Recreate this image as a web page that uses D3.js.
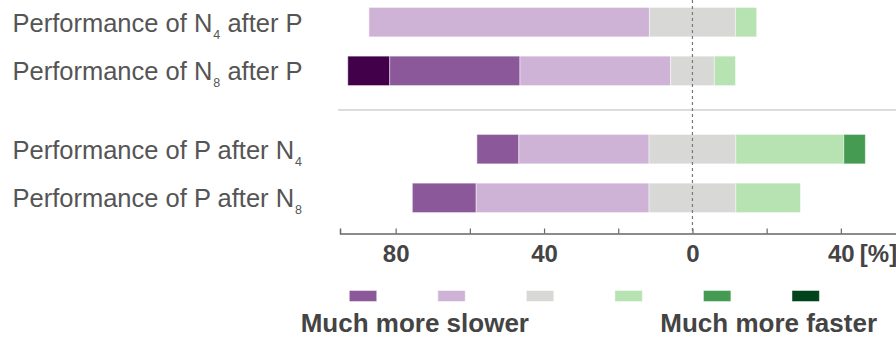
<!DOCTYPE html>
<html>
<head>
<meta charset="utf-8">
<script src="https://cdn.jsdelivr.net/npm/d3@7"></script>
<style>
  body { margin: 0; background: #fff; }
  svg { display: block; }
</style>
</head>
<body>
<svg id="chart" width="896" height="338"></svg>
<script>
// rows, top to bottom; each label = [before subscript, subscript, after]
let groups = ["N after P", "P after N"]
let rows = [
  { group: "N after P", label: ["Performance of N", "4", " after P"] },
  { group: "N after P", label: ["Performance of N", "8", " after P"] },
  { group: "P after N", label: ["Performance of P after N", "4", ""] },
  { group: "P after N", label: ["Performance of P after N", "8", ""] }
]
// levels from much slower to much faster, level 3 is neutral
let levels = ["much much slower", "much slower", "slower", "same", "faster", "much faster", "much much faster"]
let colors = ["#42004a", "#8b5899", "#cfb3d7", "#d8d9d7", "#b7e2b1", "#449b51", "#00441b"]
// values in axis units (%)
let values = [
  [0, 0, 75.6, 23.2, 5.7, 0, 0],
  [11.3, 35.1, 40.6, 11.8, 5.7, 0, 0],
  [0, 11.3, 35.1, 23.4, 29.1, 5.8, 0],
  [0, 17.2, 46.6, 23.4, 17.4, 0, 0]
]
let tickValues = [-80, -60, -40, -20, 0, 20, 40]
let tickLabels = [-80, -40, 0, 40]
let legendLevels = levels.slice(1)
let legendTexts = ["Much more slower", "Much more faster"]

let svg = d3.select("#chart")
let font = "'Liberation Sans', Arial, Helvetica, sans-serif"

let x = d3.scaleLinear().domain([-95, 55]).range([340, 896.5])
let yGroup = d3.scaleBand().domain(groups).range([-17, 237])
let yRow = d3.scaleBand().domain([0, 1]).range([0, yGroup.bandwidth()])
  .paddingInner(0.396).paddingOuter(0.502)
let color = d3.scaleOrdinal().domain(levels).range(colors)

function rowTop(i) {
  let r = rows[i]
  let inGroup = rows.filter(d => d.group == r.group).indexOf(r)
  return yGroup(r.group) + yRow(inGroup)
}

// stack each row so the neutral level is split around zero
let segments = []
values.forEach((v, i) => {
  let start = -d3.sum(v.slice(0, 3)) - v[3] / 2
  v.forEach((val, j) => {
    if (val > 0) segments.push({ row: i, level: levels[j], x0: start, x1: start + val })
    start += val
  })
})

// group separator
svg.append("line")
  .attr("x1", x.range()[0] - 2).attr("x2", x.range()[1])
  .attr("y1", yGroup("P after N")).attr("y2", yGroup("P after N"))
  .attr("stroke", "#dcdcdc").attr("stroke-width", 2)

svg.append("g")
  .selectAll("rect")
  .data(segments).enter()
  .append("rect")
  .attr("x", d => x(d.x0))
  .attr("width", d => x(d.x1) - x(d.x0))
  .attr("y", d => rowTop(d.row))
  .attr("height", yRow.bandwidth())
  .attr("fill", d => color(d.level))
  .attr("stroke", "#fff")
  .attr("stroke-opacity", 0.45)
  .attr("stroke-width", 1)

// row labels
let labels = svg.append("g")
  .selectAll("text")
  .data(rows).enter()
  .append("text")
  .attr("x", 12.5)
  .attr("y", (d, i) => rowTop(i) + yRow.bandwidth() / 2 + 9.5)
  .attr("font-family", font)
  .attr("font-size", 25.5)
  .attr("fill", "#555")
labels.append("tspan").text(d => d.label[0])
labels.append("tspan").text(d => d.label[1])
  .attr("font-size", 12.5).attr("dy", 7).attr("dx", 1)
labels.append("tspan").text(d => d.label[2]).attr("dy", -7)

// axis
let axisY = 233.5
let axis = svg.append("g")
  .attr("transform", `translate(0,${axisY})`)
  .call(d3.axisBottom(x).tickValues(tickValues).tickSize(-5)
    .tickFormat(d => tickLabels.indexOf(d) == -1 ? "" : Math.abs(d)))
axis.select(".domain").attr("stroke", "#666").attr("stroke-width", 1.5)
axis.selectAll(".tick line").attr("stroke", "#666").attr("stroke-width", 1.2)
axis.selectAll(".tick text")
  .attr("dy", null).attr("y", 28.5)
  .attr("font-family", font)
  .attr("font-weight", "bold")
  .attr("font-size", 24)
  .attr("fill", "#444")
svg.append("text")
  .attr("x", x(40) + 19).attr("y", axisY + 28.5)
  .attr("font-family", font)
  .attr("font-weight", "bold")
  .attr("font-size", 24)
  .attr("fill", "#444")
  .text("[%]")

// zero line
svg.append("line")
  .attr("x1", x(0)).attr("x2", x(0))
  .attr("y1", 0).attr("y2", axisY)
  .attr("stroke", "#777").attr("stroke-width", 1.2)
  .attr("stroke-dasharray", "3,3")

// legend
let legendX = d3.scalePoint().domain(legendLevels).range([349.3, 792])
svg.append("g")
  .selectAll("rect")
  .data(legendLevels).enter()
  .append("rect")
  .attr("x", d => legendX(d))
  .attr("y", 290.5)
  .attr("width", 27.4)
  .attr("height", 11)
  .attr("fill", d => color(d))
  .attr("stroke", "#fff").attr("stroke-opacity", 0.45)

svg.append("g")
  .selectAll("text")
  .data(legendTexts).enter()
  .append("text")
  .attr("x", (d, i) => i == 0 ? 300.7 : 660.3)
  .attr("y", 332.3)
  .attr("font-family", font)
  .attr("font-weight", "bold")
  .attr("font-size", 26)
  .attr("fill", "#444")
  .text(d => d)
</script>
</body>
</html>
